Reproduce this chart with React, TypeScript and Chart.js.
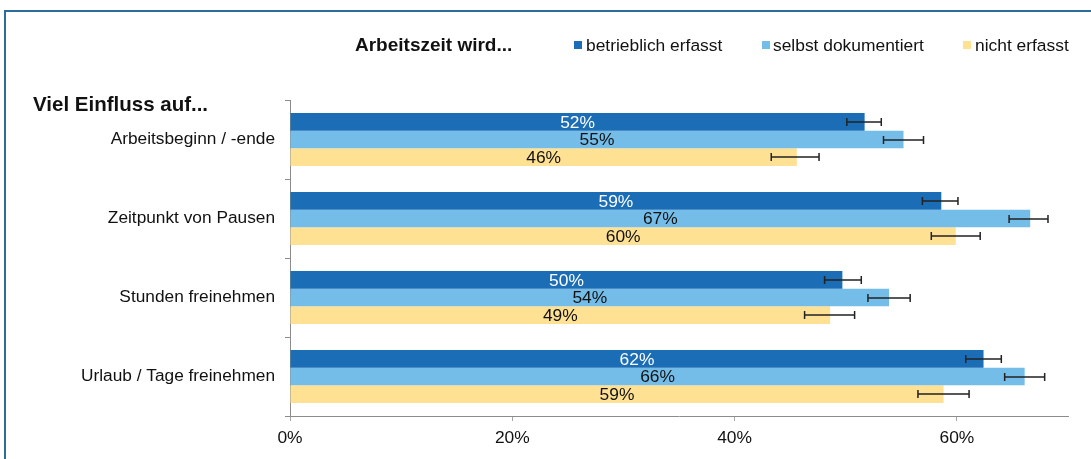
import React, { useEffect, useRef } from "react";
import { Chart, registerables } from "chart.js";

Chart.register(...registerables);

const categories = [
  "Arbeitsbeginn / -ende",
  "Zeitpunkt von Pausen",
  "Stunden freinehmen",
  "Urlaub / Tage freinehmen",
];
const seriesNames = ["betrieblich erfasst", "selbst dokumentiert", "nicht erfasst"];
const betrieblich = [51.7, 58.6, 49.7, 62.4];
const selbst = [55.2, 66.6, 53.9, 66.1];
const nicht = [45.6, 59.9, 48.6, 58.8];
const betrieblichLow = [50.1, 56.9, 48.1, 60.8];
const betrieblichHigh = [53.2, 60.1, 51.4, 64.0];
const selbstLow = [53.4, 64.7, 52.0, 64.3];
const selbstHigh = [57.0, 68.2, 55.8, 67.9];
const nichtLow = [43.3, 57.7, 46.3, 56.5];
const nichtHigh = [47.6, 62.1, 50.8, 61.1];
const xTicks = [0, 20, 40, 60];
const xMax = 70;
const legendTitle = "Arbeitszeit wird...";
const axisTitle = "Viel Einfluss auf...";

const colors = ["#1B6DB6", "#75BDE9", "#FFE194"];
const labelColors = ["#FFFFFF", "#111111", "#111111"];
const FONT = '"Liberation Sans", Arial, sans-serif';

const lows = [betrieblichLow, selbstLow, nichtLow];
const highs = [betrieblichHigh, selbstHigh, nichtHigh];

const overlayPlugin = {
  id: "overlay",
  afterDatasetsDraw(chart: any) {
    const ctx = chart.ctx;
    const xs = chart.scales.x;
    ctx.save();
    chart.data.datasets.forEach((ds: any, i: number) => {
      const meta = chart.getDatasetMeta(i);
      meta.data.forEach((bar: any, j: number) => {
        ctx.fillStyle = labelColors[i];
        ctx.font = `17.4px ${FONT}`;
        ctx.textAlign = "center";
        ctx.textBaseline = "middle";
        ctx.fillText(Math.round(ds.data[j]) + "%", (bar.x + bar.base) / 2, bar.y + 1);
        const x1 = xs.getPixelForValue(lows[i][j]);
        const x2 = xs.getPixelForValue(highs[i][j]);
        const y = Math.round(bar.y);
        ctx.strokeStyle = "#222222";
        ctx.lineWidth = 1.5;
        ctx.beginPath();
        ctx.moveTo(x1, y);
        ctx.lineTo(x2, y);
        ctx.moveTo(x1, y - 4);
        ctx.lineTo(x1, y + 4);
        ctx.moveTo(x2, y - 4);
        ctx.lineTo(x2, y + 4);
        ctx.stroke();
      });
    });
    ctx.restore();
  },
};

export default function App() {
  const ref = useRef<HTMLCanvasElement>(null);
  useEffect(() => {
    const values = [betrieblich, selbst, nicht];
    const chart = new Chart(ref.current as HTMLCanvasElement, {
      type: "bar",
      data: {
        labels: categories,
        datasets: seriesNames.map((name, i) => ({
          label: name,
          data: values[i],
          backgroundColor: colors[i],
          borderWidth: 0,
          categoryPercentage: 0.67,
          barPercentage: 1.0,
        })),
      },
      options: {
        indexAxis: "y",
        animation: false,
        responsive: false,
        maintainAspectRatio: false,
        layout: { padding: { top: 100, right: 23, left: 0, bottom: 0 } },
        plugins: {
          legend: { display: false },
          tooltip: { enabled: false },
        },
        scales: {
          x: {
            min: 0,
            max: xMax,
            afterFit: (s: any) => {
              s.height = 43;
            },
            afterBuildTicks: (s: any) => {
              s.ticks = xTicks.map((v) => ({ value: v }));
            },
            grid: {
              display: true,
              drawOnChartArea: false,
              tickLength: 5,
              color: "#A6A6A6",
            },
            border: { display: true, color: "#8C8C8C", width: 1 },
            ticks: {
              padding: 7,
              color: "#111",
              font: { family: FONT, size: 17.4 },
              callback: (v: any) => v + "%",
            },
          },
          y: {
            afterFit: (s: any) => {
              s.width = 290;
            },
            grid: {
              display: true,
              offset: true,
              drawOnChartArea: false,
              tickLength: 5,
              color: "#8C8C8C",
            },
            border: { display: true, color: "#8C8C8C", width: 1 },
            ticks: {
              padding: 10,
              color: "#111",
              font: { family: FONT, size: 17.3 },
            },
          },
        },
      },
      plugins: [overlayPlugin],
    } as any);
    return () => chart.destroy();
  }, []);

  const legendItems = [
    { sq: 574, tx: 586 },
    { sq: 762, tx: 773 },
    { sq: 963, tx: 975 },
  ];

  return (
    <div
      style={{
        position: "fixed",
        left: 0,
        top: 0,
        width: 1091,
        height: 459,
        overflow: "hidden",
        background: "#fff",
        fontFamily: FONT,
      }}
    >
      <div
        style={{
          position: "absolute",
          left: 4,
          top: 10,
          width: 1200,
          height: 600,
          borderTop: "2px solid #2B6C9B",
          borderLeft: "2px solid #2B6C9B",
        }}
      />
      <canvas
        ref={ref}
        width={1091}
        height={459}
        style={{ position: "absolute", left: 0, top: 0, width: 1091, height: 459 }}
      />
      <div
        style={{
          position: "absolute",
          left: 355,
          top: 34,
          fontSize: 19,
          lineHeight: "22px",
          fontWeight: "bold",
          color: "#111",
          whiteSpace: "nowrap",
        }}
      >
        {legendTitle}
      </div>
      {seriesNames.map((name, i) => (
        <React.Fragment key={name}>
          <div
            style={{
              position: "absolute",
              left: legendItems[i].sq,
              top: 41,
              width: 8,
              height: 8,
              background: colors[i],
            }}
          />
          <div
            style={{
              position: "absolute",
              left: legendItems[i].tx,
              top: 35,
              fontSize: 17.4,
              lineHeight: "20px",
              color: "#111",
              whiteSpace: "nowrap",
            }}
          >
            {name}
          </div>
        </React.Fragment>
      ))}
      <div
        style={{
          position: "absolute",
          left: 33,
          top: 92,
          fontSize: 20.5,
          lineHeight: "24px",
          fontWeight: "bold",
          color: "#111",
          whiteSpace: "nowrap",
        }}
      >
        {axisTitle}
      </div>
    </div>
  );
}
